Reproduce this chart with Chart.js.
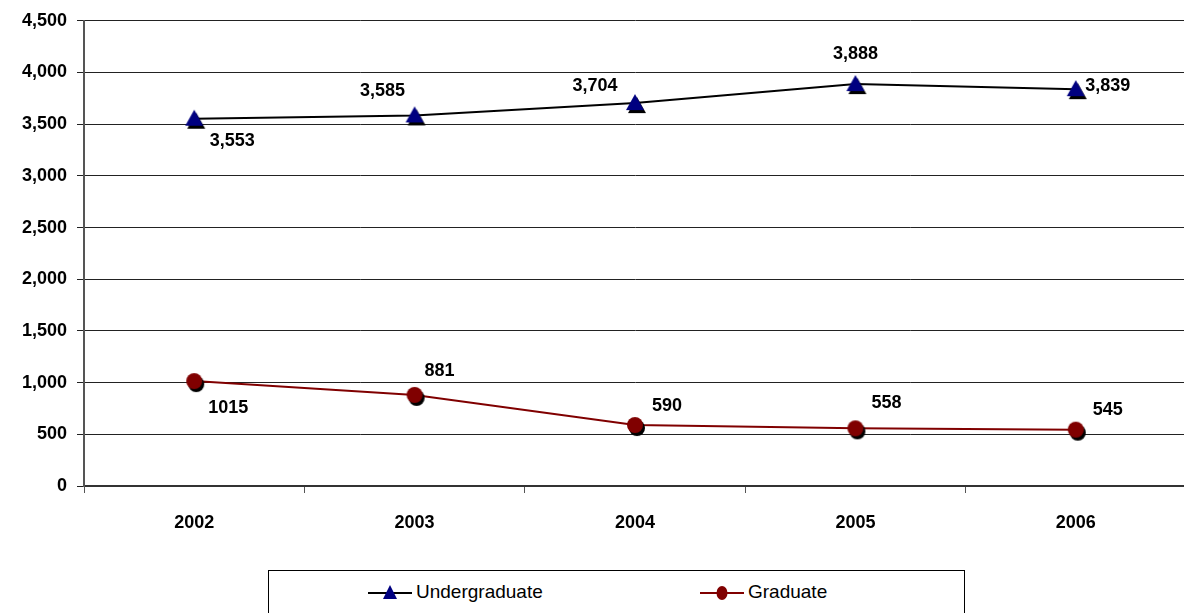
<!DOCTYPE html>
<html>
<head>
<meta charset="utf-8">
<script src="https://cdn.jsdelivr.net/npm/chart.js@4.4.1/dist/chart.umd.min.js"></script>
<style>
    html, body { margin: 0; padding: 0; background: #fff; overflow: hidden; }
    #wrap { position: relative; width: 1184px; height: 613px; overflow: hidden; }
    #chart { position: absolute; left: 0; top: 0; }
    #legend {
        position: absolute; left: 268px; top: 570px; width: 697px; height: 60px;
        border: 1px solid #000; box-sizing: border-box; background: #fff;
        font-family: "Liberation Sans", Arial, sans-serif; font-size: 19px; color: #000;
    }
    .item { position: absolute; top: 10px; display: flex; align-items: center; }
    .item canvas { margin-right: 4px; }
</style>
</head>
<body>
<div id="wrap">
    <canvas id="chart" width="1192" height="613"></canvas>
    <div id="legend"></div>
</div>
<script>
const years = ['2002', '2003', '2004', '2005', '2006'];
const undergraduate = [3553, 3585, 3704, 3888, 3839];
const graduate = [1015, 881, 590, 558, 545];
const yTicks = [0, 500, 1000, 1500, 2000, 2500, 3000, 3500, 4000, 4500];

// where each value label sits relative to its point (px)
const undergradLabelOffsets = [[38, 22], [-32, -24], [-40, -17], [0, -30], [32, -3]];
const gradLabelOffsets = [[34, 27], [25, -24], [32, -19], [31, -25], [32, -20]];

const NAVY = '#000080';
const MAROON = '#800000';
const FONT = '"Liberation Sans", Arial, sans-serif';

function markerCanvas(kind, color, shadow) {
    const c = document.createElement('canvas');
    c.width = 28; c.height = 28;
    const ctx = c.getContext('2d');
    const draw = (dx, dy, fill) => {
        ctx.fillStyle = fill;
        ctx.beginPath();
        if (kind === 'triangle') {
            ctx.moveTo(14 + dx, 5 + dy);
            ctx.lineTo(23 + dx, 21 + dy);
            ctx.lineTo(5 + dx, 21 + dy);
            ctx.closePath();
        } else {
            ctx.arc(14 + dx, 14 + dy, 8, 0, Math.PI * 2);
        }
        ctx.fill();
    };
    if (shadow) draw(2, 3, '#000');
    draw(0, 0, color);
    return c;
}

function legendIcon(kind, color, lineColor) {
    const c = document.createElement('canvas');
    c.width = 44; c.height = 20;
    const ctx = c.getContext('2d');
    ctx.strokeStyle = lineColor;
    ctx.lineWidth = 2;
    ctx.beginPath();
    ctx.moveTo(0, 11); ctx.lineTo(44, 11);
    ctx.stroke();
    ctx.fillStyle = color;
    ctx.beginPath();
    if (kind === 'triangle') {
        ctx.moveTo(22, 3); ctx.lineTo(29, 17); ctx.lineTo(15, 17); ctx.closePath();
    } else {
        ctx.ellipse(22, 11, 5.5, 7, 0, 0, Math.PI * 2);
    }
    ctx.fill();
    return c;
}

const valueLabels = {
    id: 'valueLabels',
    afterDatasetsDraw(chart) {
        const ctx = chart.ctx;
        ctx.save();
        ctx.font = 'bold 18px ' + FONT;
        ctx.fillStyle = '#000';
        ctx.textAlign = 'center';
        ctx.textBaseline = 'middle';
        chart.data.datasets.forEach((ds, di) => {
            const meta = chart.getDatasetMeta(di);
            meta.data.forEach((pt, i) => {
                const off = ds.labelOffsets[i];
                const v = ds.data[i];
                const txt = ds.useComma ? v.toLocaleString('en-US') : String(v);
                ctx.fillText(txt, pt.x + off[0], pt.y + off[1]);
            });
        });
        ctx.restore();
    }
};

const tickFont = { family: FONT, size: 18, weight: 'bold' };

new Chart(document.getElementById('chart'), {
    type: 'line',
    data: {
        labels: years,
        datasets: [{
            label: 'Undergraduate',
            data: undergraduate,
            borderColor: '#000',
            borderWidth: 2,
            pointStyle: markerCanvas('triangle', NAVY, true),
            labelOffsets: undergradLabelOffsets,
            useComma: true
        }, {
            label: 'Graduate',
            data: graduate,
            borderColor: MAROON,
            borderWidth: 2,
            pointStyle: markerCanvas('circle', MAROON, true),
            labelOffsets: gradLabelOffsets,
            useComma: false
        }]
    },
    options: {
        responsive: false,
        animation: false,
        layout: { padding: { top: 18, right: 0, left: 0, bottom: 0 } },
        plugins: {
            legend: { display: false },
            tooltip: { enabled: false }
        },
        scales: {
            x: {
                offset: true,
                grid: { offset: true, drawOnChartArea: false, drawTicks: true, tickLength: 7, color: '#555' },
                border: { color: '#333', width: 2 },
                ticks: { color: '#000', font: tickFont, padding: 19 },
                afterFit(scale) { scale.height = 127; }
            },
            y: {
                min: 0,
                max: 4500,
                afterBuildTicks(scale) { scale.ticks = yTicks.map(v => ({ value: v })); },
                grid: { color: '#222', lineWidth: 1, tickLength: 7 },
                border: { color: '#555', width: 2 },
                ticks: {
                    color: '#000', font: tickFont, padding: 10,
                    callback: v => v.toLocaleString('en-US')
                },
                afterFit(scale) { scale.width = 84; }
            }
        }
    },
    plugins: [valueLabels]
});

// legend box
const legend = document.getElementById('legend');
[
    { text: 'Undergraduate', icon: legendIcon('triangle', NAVY, '#000'), left: 99 },
    { text: 'Graduate', icon: legendIcon('circle', MAROON, MAROON), left: 431 }
].forEach(it => {
    const d = document.createElement('div');
    d.className = 'item';
    d.style.left = it.left + 'px';
    d.appendChild(it.icon);
    const s = document.createElement('span');
    s.textContent = it.text;
    d.appendChild(s);
    legend.appendChild(d);
});
</script>
</body>
</html>
